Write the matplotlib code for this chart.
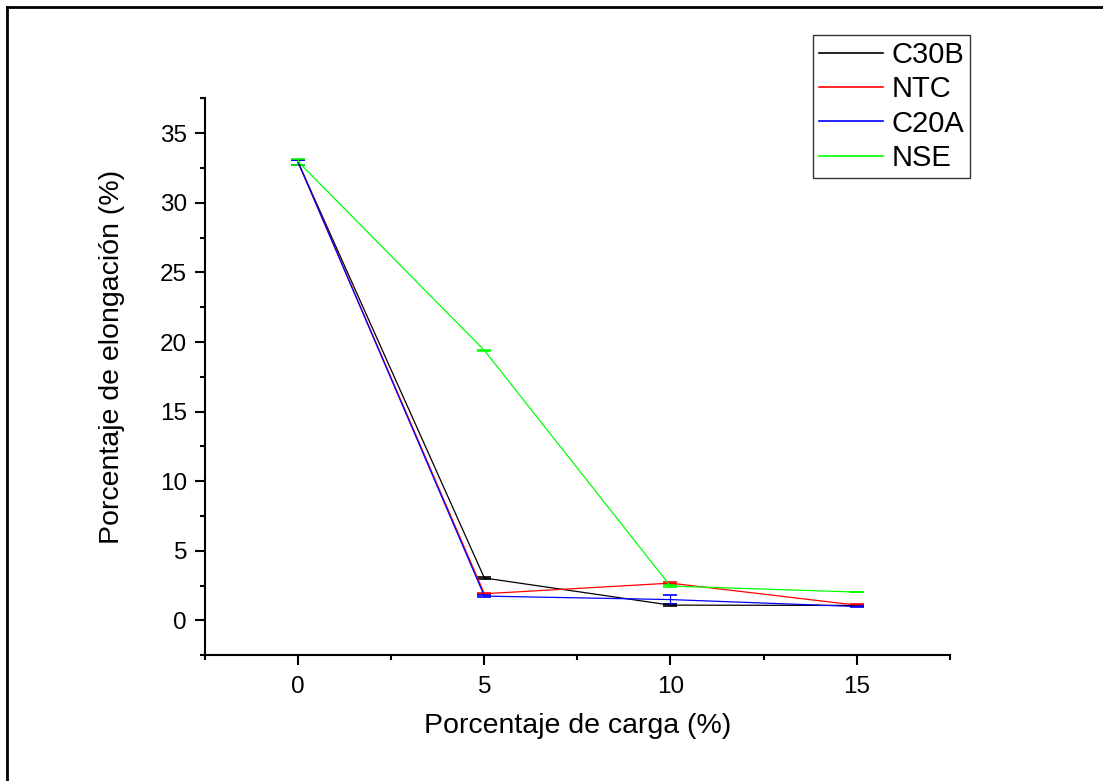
import matplotlib
matplotlib.use("Agg")
import matplotlib.pyplot as plt
from matplotlib.lines import Line2D
from matplotlib.ticker import MultipleLocator

plt.rcParams['font.family'] = ['Liberation Sans', 'DejaVu Sans']

carga = [0, 5, 10, 15]
c30b = [32.9, 3.05, 1.1, 1.08]
c30b_err = [0.15, 0.05, 0.05, 0.05]
ntc = [32.9, 1.92, 2.68, 1.1]
ntc_err = [0.15, 0.05, 0.05, 0.05]
c20a = [32.9, 1.75, 1.5, 1.0]
c20a_err = [0.15, 0.1, 0.35, 0.05]
nse = [32.95, 19.4, 2.47, 2.04]
nse_err = [0.2, 0.02, 0.05, 0.02]

series = [("C30B", c30b, c30b_err, "black"),
          ("NTC", ntc, ntc_err, "red"),
          ("C20A", c20a, c20a_err, "blue"),
          ("NSE", nse, nse_err, "#00ff00")]

fig = plt.figure(figsize=(11.03, 7.81), dpi=100)
ax = fig.add_axes([0.186, 0.161, 0.675, 0.713])

for name, y, err, col in series:
    ax.errorbar(carga, y, yerr=err, color=col, lw=0.9, capsize=5,
                elinewidth=0.9, capthick=1.2, label=name)

ax.set_xlim(-2.5, 17.5)
ax.set_ylim(-2.5, 37.5)
ax.xaxis.set_minor_locator(MultipleLocator(2.5))
ax.yaxis.set_minor_locator(MultipleLocator(2.5))
ax.set_xticks([0, 5, 10, 15])
ax.set_yticks([0, 5, 10, 15, 20, 25, 30, 35])

for s in ['top', 'right']:
    ax.spines[s].set_visible(False)
for s in ['left', 'bottom']:
    ax.spines[s].set_linewidth(1.5)
ax.tick_params(which='major', direction='out', length=7, width=1.5, labelsize=17.5)
ax.tick_params(axis='y', which='major', pad=6)
ax.tick_params(axis='x', which='major', pad=8)
ax.tick_params(which='minor', direction='out', length=3.5, width=1.5)

ax.set_xlabel('Porcentaje de carga (%)', fontsize=20.5)
ax.set_ylabel('Porcentaje de elongación (%)', fontsize=20.5)
ax.xaxis.set_label_coords(0.5, -0.104)
ax.yaxis.set_label_coords(-0.108, 0.535)

handles = [Line2D([], [], color=c, lw=1.2) for _, _, _, c in series]
leg = ax.legend(handles, [n for n, _, _, _ in series], loc='upper left',
                bbox_to_anchor=(813 / 1103, 1 - 35 / 781),
                bbox_transform=fig.transFigure, fontsize=21, frameon=True,
                fancybox=False, edgecolor='black', handlelength=2.2,
                handletextpad=0.3, labelspacing=0.22, borderpad=0.2,
                borderaxespad=0)
leg.get_frame().set_linewidth(1.0)

# page border (top and left only)
fig.add_artist(Line2D([7 / 1103, 7 / 1103], [0, 1 - 7 / 781], color='black', lw=2,
                      transform=fig.transFigure))
fig.add_artist(Line2D([7 / 1103, 1], [1 - 7 / 781, 1 - 7 / 781], color='black', lw=2,
                      transform=fig.transFigure))

fig.savefig('out.png', dpi=100)
